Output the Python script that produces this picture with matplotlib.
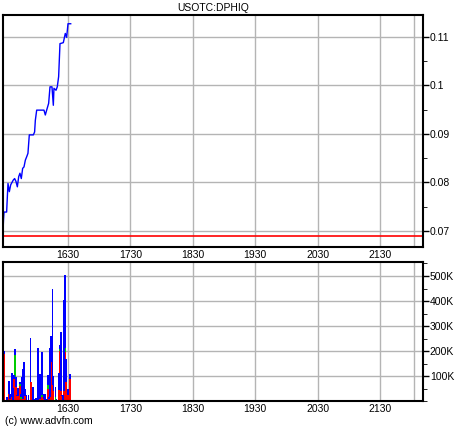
import matplotlib.pyplot as plt
from matplotlib.ticker import MultipleLocator, FuncFormatter

# price trace (minute of day, price)
price_time = [927.6, 928.0, 928.5, 931.0, 932.3, 933.6, 934.9, 937.4, 938.7, 940.0,
              941.3, 942.6, 943.8, 945.1, 946.4, 947.7, 949.0, 950.3, 951.5, 952.8,
              956.7, 957.9, 958.6, 959.9, 966.9, 968.2, 969.5, 971.4, 972.7, 974.6,
              975.9, 976.5, 978.5, 979.7, 981.0, 982.3, 985.5, 987.4, 988.7, 990.0, 992.6]
price_vals = [0.0702, 0.0723, 0.0739, 0.0739, 0.0798, 0.0781, 0.0795, 0.0805, 0.0808, 0.0802,
              0.0791, 0.0812, 0.0819, 0.0808, 0.0829, 0.0832, 0.0846, 0.0853, 0.0860, 0.0898,
              0.0898, 0.0904, 0.0928, 0.0949, 0.0949, 0.0939, 0.0949, 0.0963, 0.0997, 0.0997,
              0.0959, 0.0994, 0.0990, 0.0997, 0.1018, 0.1086, 0.1088, 0.1107, 0.1099, 0.1127, 0.1127]
prev_close = 0.069

# volume bars (minute of day), stacked red / green / blue, in shares
vol_time = [929, 931, 933, 934, 936, 937, 938, 939, 940, 941, 942, 944, 945, 946, 947, 948,
            949, 950, 952, 954, 955, 956, 957, 959, 960, 961, 963, 965, 967, 968, 970, 971,
            972, 973, 974, 975, 976, 978, 979, 981, 982, 983, 984, 985, 986, 987, 988, 990, 992]
vol_red = [190e3, 0, 30e3, 10e3, 15e3, 5e3, 87e3, 89e3, 58e3, 20e3, 20e3, 62e3, 8e3, 20e3, 10e3, 25e3,
           20e3, 0, 0, 76e3, 76e3, 0, 0, 0, 0, 0, 10e3, 15e3, 10e3, 0, 0, 49e3,
           10e3, 15e3, 156e3, 63e3, 40e3, 0, 0, 43e3, 199e3, 40e3, 20e3, 0, 40e3, 196e3, 76e3, 25e3, 89e3]
vol_green = [0, 0, 0, 0, 0, 0, 0, 94e3, 0, 0, 0, 8e3, 10e3, 0, 0, 0,
             0, 0, 0, 0, 0, 0, 0, 0, 0, 0, 0, 10e3, 0, 0, 0, 15e3,
             0, 0, 0, 0, 0, 15e3, 0, 0, 10e3, 0, 0, 0, 0, 15e3, 0, 0, 0]
vol_blue = [10e3, 15e3, 50e3, 20e3, 97e3, 47e3, 16e3, 24e3, 38e3, 5e3, 32e3, 6e3, 10e3, 76e3, 119e3, 131e3,
            30e3, 25e3, 25e3, 176e3, 0, 56e3, 10e3, 12e3, 10e3, 212e3, 98e3, 171e3, 18e3, 30e3, 10e3, 41e3,
            5e3, 197e3, 104e3, 386e3, 60e3, 40e3, 10e3, 69e3, 16e3, 236e3, 5e3, 25e3, 364e3, 294e3, 93e3, 25e3, 19e3]

hour_ticks = [990, 1050, 1110, 1170, 1230, 1290]
hour_labels = ["1630", "1730", "1830", "1930", "2030", "2130"]
x_lo, x_hi = 927.5, 1331.3

plt.rcParams['font.family'] = ['Liberation Sans', 'DejaVu Sans']
fig = plt.figure(figsize=(4.6, 4.3), dpi=100)
ax1 = fig.add_axes([0.0065, 0.4256, 0.913, 0.5395])
ax2 = fig.add_axes([0.0065, 0.0674, 0.913, 0.3233])

grid_col = '#b4b4b4'
for ax in (ax1, ax2):
    ax.set_xlim(x_lo, x_hi)
    ax.set_xticks(hour_ticks)
    ax.set_xticklabels(hour_labels, fontsize=7.5)
    for t in hour_ticks + [1323]:
        ax.axvline(t, color=grid_col, lw=1, zorder=0)
    ax.yaxis.tick_right()
    ax.yaxis.set_minor_locator(MultipleLocator(ax is ax1 and 0.005 or 50000))
    ax.tick_params(axis='y', labelsize=7.5, length=4, width=1, pad=1)
    ax.tick_params(axis='y', which='minor', length=3)
    ax.tick_params(axis='x', length=0, pad=2)
    for s in ax.spines.values():
        s.set_linewidth(1.5)

# price panel
ax1.set_ylim(0.0667, 0.1145)
ax1.set_yticks([0.07, 0.08, 0.09, 0.1, 0.11])
ax1.set_yticklabels(["0.07", "0.08", "0.09", "0.1", "0.11"])
for v in [0.07, 0.08, 0.09, 0.1, 0.11]:
    ax1.axhline(v, color=grid_col, lw=1, zorder=0)
ax1.axhline(prev_close, color='red', lw=1.2)
ax1.plot(price_time, price_vals, color='blue', lw=1)
ax1.set_title("USOTC:DPHIQ", fontsize=7.5, pad=3)

# volume panel
ax2.set_ylim(0, 556000)
ax2.set_yticks([100000, 200000, 300000, 400000, 500000])
ax2.yaxis.set_major_formatter(FuncFormatter(lambda v, p: f"{int(v / 1000)}K"))
for v in [100000, 200000, 300000, 400000, 500000]:
    ax2.axhline(v, color=grid_col, lw=1, zorder=0)
green_base = [r for r in vol_red]
blue_base = [r + g for r, g in zip(vol_red, vol_green)]
ax2.bar(vol_time, vol_red, width=1.7, color='red', lw=0)
ax2.bar(vol_time, vol_green, width=1.7, bottom=green_base, color='#00cc00', lw=0)
ax2.bar(vol_time, vol_blue, width=1.7, bottom=blue_base, color='blue', lw=0)

fig.text(0.011, 0.015, "(c) www.advfn.com", fontsize=7.5)

fig.savefig("out.png", dpi=100)
